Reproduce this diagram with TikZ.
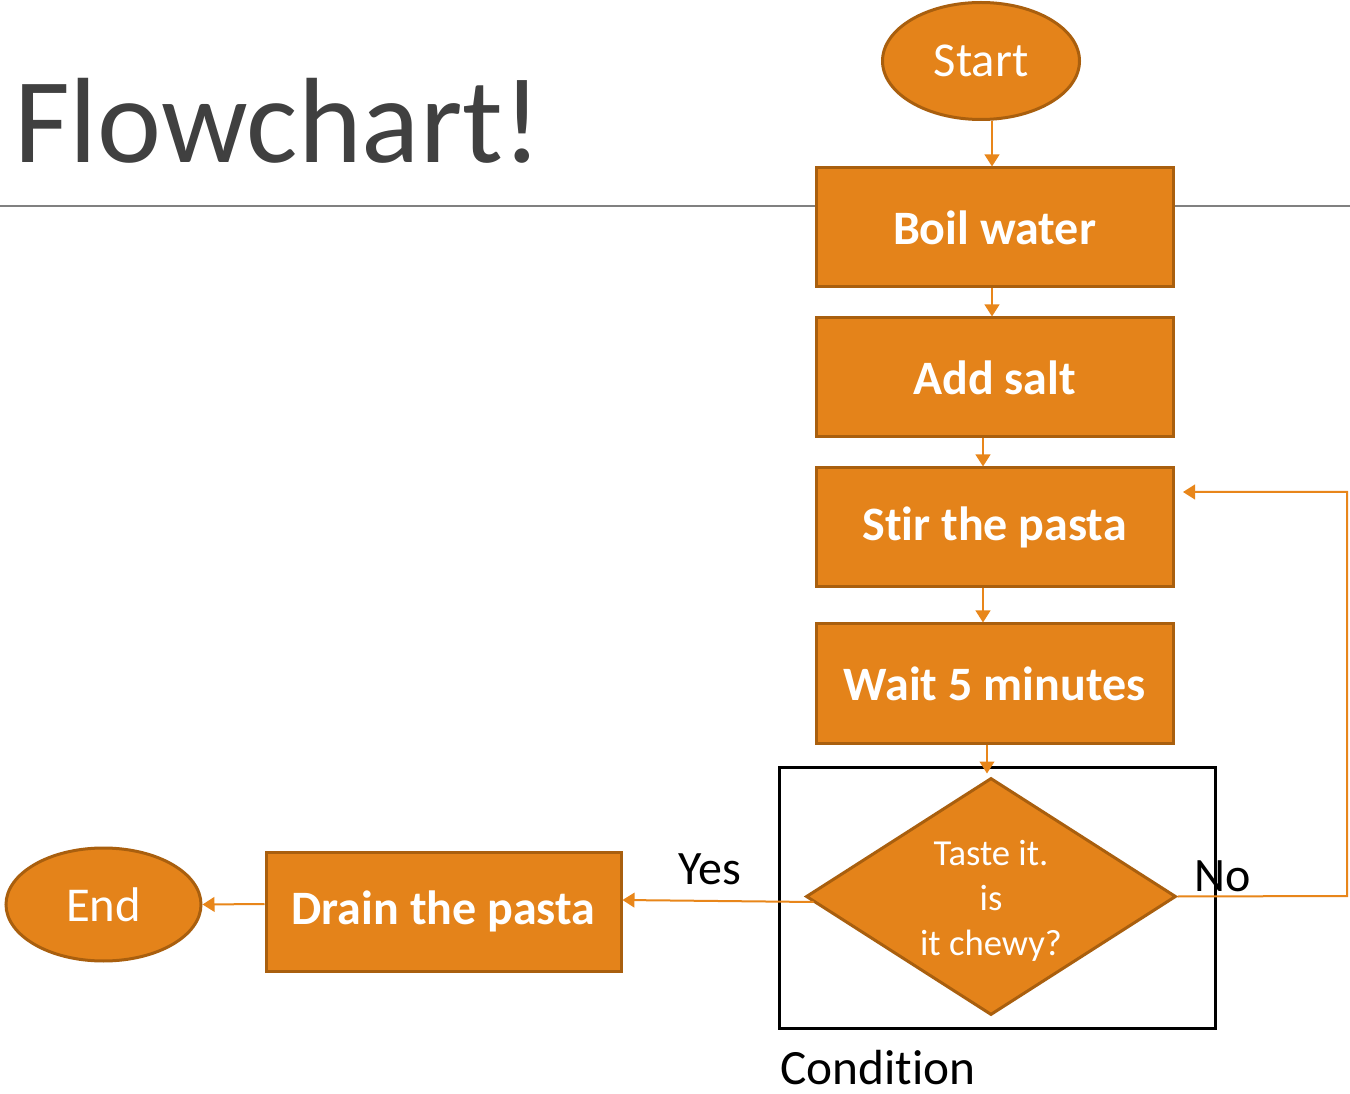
\documentclass[tikz,border=0pt]{standalone}
\usepackage{fontspec}
\setmainfont{Carlito}[Ligatures={NoCommon}]
\usetikzlibrary{shapes.geometric,arrows.meta,calc}
\definecolor{pfill}{HTML}{E4831A}
\definecolor{pdraw}{HTML}{A95F0E}
\definecolor{parr}{HTML}{E8861A}
\definecolor{ttl}{HTML}{404040}
\definecolor{rule}{HTML}{808080}
\begin{document}
\begin{tikzpicture}[x=0.75pt,y=-0.75pt,
  stepbox/.style={rectangle, draw=pdraw, fill=pfill, line width=2.25pt, minimum width=267.75pt, minimum height=89.25pt, inner sep=0pt, text=white, font=\fontsize{36}{42}\selectfont\bfseries},
  term/.style={ellipse, draw=pdraw, fill=pfill, line width=2.25pt, text=white, inner sep=0pt, font=\fontsize{36.5}{42}\selectfont},
  arr/.style={draw=parr, line width=1.5pt, -{Triangle[length=9pt,width=11pt]}},
  lbl/.style={text=black, inner sep=0pt, font=\fontsize{36}{42}\selectfont}]
\useasboundingbox[fill=white] (0,0) rectangle (1350,1094);
% title and rule
\draw[rule, line width=1.1pt] (0,206) -- (1350,206);
\node[anchor=base west, inner sep=0pt, text=ttl, font=\fontsize{91}{100}\selectfont] (title) at (14,163) {Flowchart!};
% nodes
\node[term, minimum width=147.75pt, minimum height=87.75pt] (start) at (981,61) {Start};
\node[stepbox] (boil) at (994.5,227.5) {Boil water};
\node[stepbox] (add) at (994.5,377.5) {Add salt};
\node[stepbox] (stir) at (994.5,527.5) {Stir the pasta};
\node[stepbox] (wait) at (994.5,683.5) {Wait 5 minutes};
\node[diamond, draw=pdraw, fill=pfill, line width=2.25pt, minimum width=277.5pt, minimum height=177.75pt, inner sep=0pt] (dec) at (991,896.5) {};
\node[text=white, align=center, inner sep=0pt, font=\fontsize{27.5}{34}\selectfont] (dectext) at (991,901) {Taste it.\\is\\it chewy?};
\node[stepbox, minimum width=266.25pt] (drain) at (443.5,911.5) {Drain the pasta};
\node[term, minimum width=146.25pt, minimum height=84.75pt] (end) at (103.5,904.5) {End};
% condition box
\node[draw=black, line width=2.25pt, minimum width=327pt, minimum height=195.75pt, inner sep=0pt] (condbox) at (997,897.5) {};
% labels
\node[lbl, anchor=base west] (yes) at (678,884) {Yes};
\node[lbl, anchor=base west] (no) at (1194,891) {No};
\node[lbl, font=\fontsize{37}{42}\selectfont, anchor=base west] (cond) at (780,1084) {Condition};
% connectors
\draw[arr] ($(start.south)+(11,0)$) -- ($(boil.north)+(-2.5,0)$);
\draw[arr] ($(boil.south)+(-2.5,0)$) -- ($(add.north)+(-2.5,0)$);
\draw[arr] ($(add.south)+(-11.5,0)$) -- ($(stir.north)+(-11.5,0)$);
\draw[arr] ($(stir.south)+(-11.5,0)$) -- ($(wait.north)+(-11.5,0)$);
\draw[arr] ($(wait.south)+(-7.5,0)$) -- ($(dec.north)+(-4,-3)$);
\draw[arr] ($(dec.west)+(9,5.5)$) -- ($(drain.east)+(0,-11.5)$);
\draw[arr] ($(drain.west)+(0,-7.5)$) -- (end.east);
\coordinate (loopa) at (1347,896);
\coordinate (loopb) at (1347,492);
\draw[arr] (dec.east) -- (loopa) -- (loopb) -- ($(stir.east)+(8.5,-35.5)$);
\end{tikzpicture}
\end{document}
